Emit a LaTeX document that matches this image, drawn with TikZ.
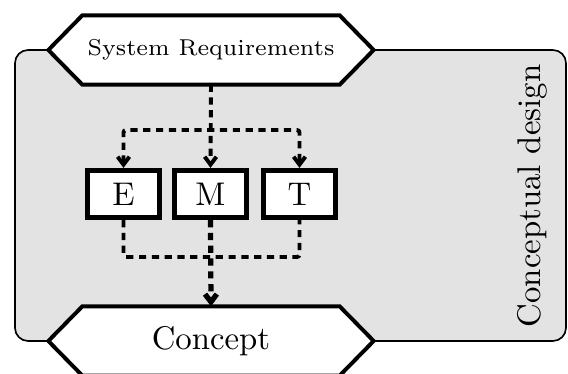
\documentclass[tikz,border=0pt]{standalone}
\usetikzlibrary{arrows.meta,calc}
\pgfdeclarelayer{back}
\pgfsetlayers{back,main}
\newcommand\pxs{0.305pt}

\begin{document}
\begin{tikzpicture}[
  x=0.305pt, y=-0.305pt,
  hexbody/.style={inner sep=0pt, minimum width=256*\pxs, minimum height=68*\pxs},
  hexline/.style={draw, line width=1.2pt, fill=white, line join=miter},
  panel/.style={draw, line width=0.5pt, fill=black!11, rounded corners=4pt},
  blockbox/.style={draw, line width=1.6pt, fill=white, inner sep=0pt,
                   minimum width=72*\pxs, minimum height=47*\pxs},
  flow/.style={line width=1.2pt, dash pattern=on 2.2pt off 1.7pt,
               rounded corners=0.8pt},
  mainflow/.style={flow, line width=1.6pt},
  tip/.style={-{Straight Barb[length=2.4pt,width=3.6pt]}},
  bothtips/.style={{Straight Barb[length=2.4pt,width=3.6pt]}-{Straight Barb[length=2.4pt,width=3.6pt]}}
]
\useasboundingbox (0,0) rectangle (568,374);

% stage inputs and outputs
\node[hexbody] (req) at (211,50) {\scriptsize System Requirements};
\node[hexbody] (con) at (211,341) {Concept};

% design blocks
\node[blockbox] (E) at (123.5,194) {E};
\node[blockbox] (M) at (210.5,194) {M};
\node[blockbox] (T) at (299.5,194) {T};

% phase label
\node[rotate=90] (phase) at (532,196) {Conceptual design};

\begin{pgfonlayer}{back}
  \draw[panel] (15,50) rectangle (566,341);
  \draw[hexline] (req.north west) -- (req.north east) -- ($(req.east)+(34,0)$)
     -- (req.south east) -- (req.south west) -- ($(req.west)+(-34,0)$) -- cycle;
  \draw[hexline] (con.north west) -- (con.north east) -- ($(con.east)+(34,0)$)
     -- (con.south east) -- (con.south west) -- ($(con.west)+(-34,0)$) -- cycle;
\end{pgfonlayer}

% distribution of the requirements
\coordinate (split) at (210.5,130);
\draw[flow, tip] (req.south) -- (M.north);
\draw[flow, bothtips] (E.north) |- (split) -| (T.north);

% merging into the concept
\coordinate (merge) at (210.5,257);
\draw[flow] (E.south) |- (merge) -| (T.south);
\draw[mainflow, tip] (M.south) -- (con.north);
\end{tikzpicture}
\end{document}
